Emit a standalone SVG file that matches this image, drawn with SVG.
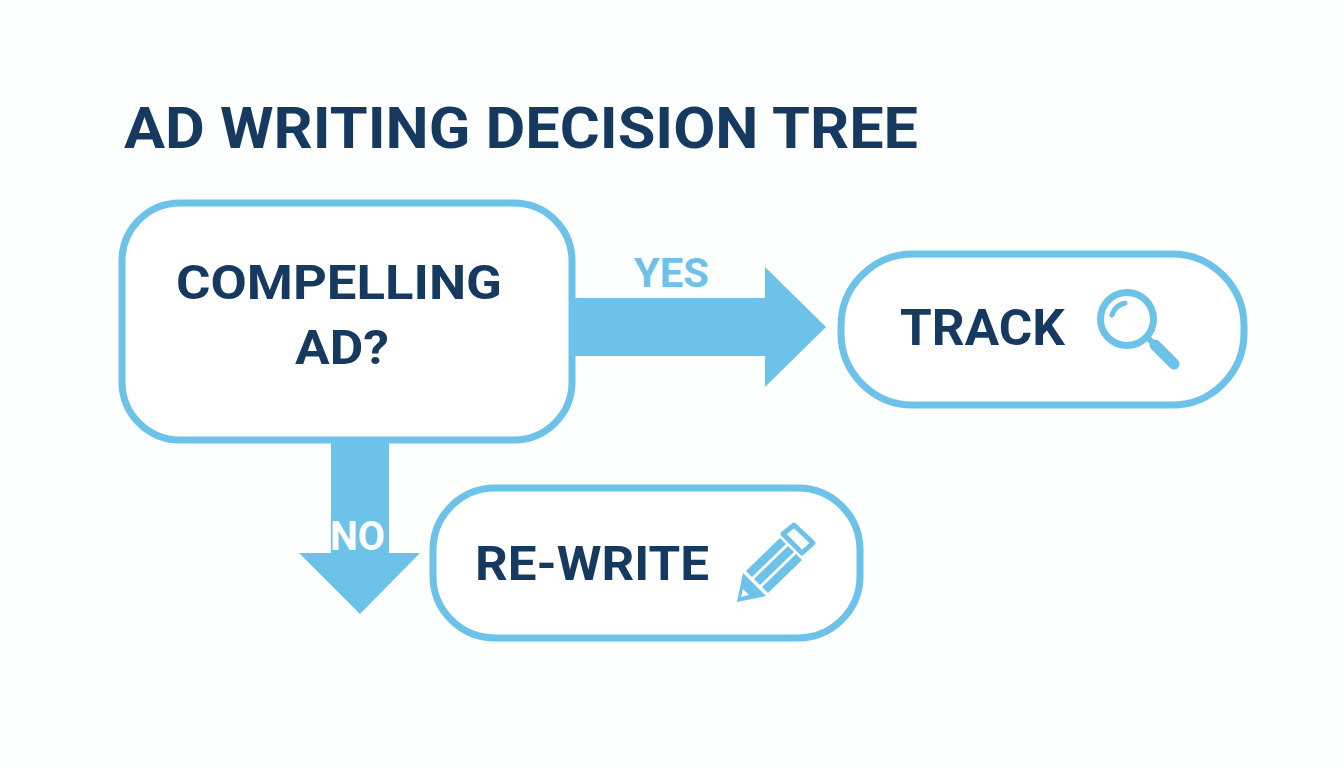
<svg xmlns="http://www.w3.org/2000/svg" width="1344" height="768" viewBox="0 0 1344 768">
<style>
.box{fill:#fff;stroke:#6cc2e8;stroke-width:7}
.t{font-family:Roboto,"Liberation Sans",sans-serif;font-weight:700;fill:#163a5f}
.a{fill:#6cc2e8}
.ic{fill:none;stroke:#6cc2e8;stroke-linecap:round}
</style>
<rect width="1344" height="768" fill="#fdfefe"/>
<text id="title" class="t" x="124" y="148" font-size="58" textLength="794" lengthAdjust="spacingAndGlyphs">AD WRITING DECISION TREE</text>
<g id="connectors">
<path class="a" d="M572 298H765V267L826 327L765 387V356H572Z"/>
<path class="a" d="M331 440H389V553H420L360 614L299 553H331Z"/>
<text class="t" x="634" y="287" font-size="40" style="fill:#6cc2e8" textLength="75" lengthAdjust="spacingAndGlyphs">YES</text>
<text class="t" x="330" y="550" font-size="41" style="fill:#fff" textLength="55" lengthAdjust="spacingAndGlyphs">NO</text>
</g>
<g id="compelling">
<rect class="box" x="122" y="203" width="450" height="237" rx="58"/>
<text class="t" x="339" y="299" font-size="48" text-anchor="middle" textLength="326" lengthAdjust="spacingAndGlyphs">COMPELLING</text>
<text class="t" x="342" y="364" font-size="48" text-anchor="middle" textLength="94" lengthAdjust="spacingAndGlyphs">AD?</text>
</g>
<g id="track">
<rect class="box" x="841" y="254" width="403" height="151" rx="72"/>
<text class="t" x="900" y="345" font-size="50" textLength="165" lengthAdjust="spacingAndGlyphs">TRACK</text>
<circle class="ic" cx="1127" cy="319" r="26.5" stroke-width="7"/>
<path class="ic" d="M1112 315A18 18 0 0 1 1125 303" stroke-width="5"/>
<path class="ic" d="M1150 340L1154 344" stroke-width="6"/>
<path class="ic" d="M1155 345L1174 364" stroke-width="11"/>
</g>
<g id="rewrite">
<rect class="box" x="433" y="488" width="427" height="150" rx="62"/>
<text class="t" x="475" y="580" font-size="48" textLength="234" lengthAdjust="spacingAndGlyphs">RE-WRITE</text>
<path class="a" d="M746 571L780 538L786 544L752 577Z"/>
<path class="a" d="M754 579L788 546L794 552L760 585Z"/>
<path class="a" d="M762 587L796 554L802 560L768 593Z"/>
<path class="a" d="M743 573L766 596L737 602ZM743 589L749 595L741 597Z" fill-rule="evenodd"/>
<path d="M783 534L794 525L813 543L802 553Z" fill="none" stroke="#6cc2e8" stroke-width="5" stroke-linejoin="round"/>
</g>
</svg>
